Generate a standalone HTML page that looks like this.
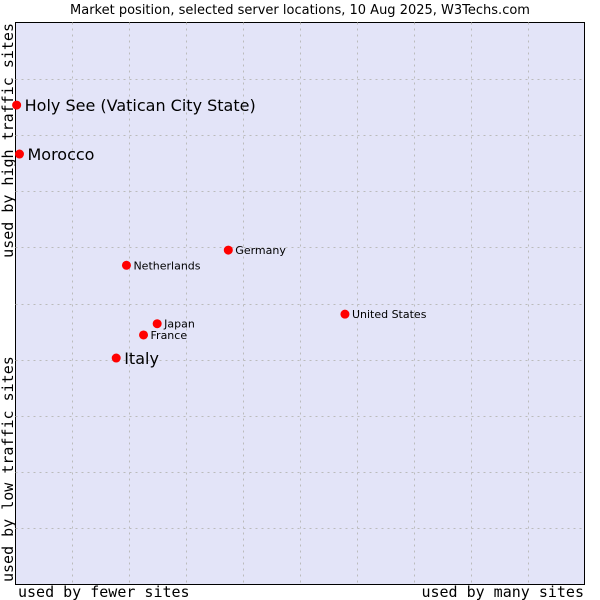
<!DOCTYPE html>
<html><head><meta charset="utf-8"><style>
body{margin:0;background:#fff;}
svg{display:block;font-family:"DejaVu Sans","Liberation Sans",sans-serif;}
.mono{font-family:"DejaVu Sans Mono","Liberation Mono",monospace;font-size:15px;fill:#000;}
</style></head><body>
<svg id="chart" width="600" height="600">
<text x="300" y="14" text-anchor="middle" font-size="13">Market position, selected server locations, 10 Aug 2025, W3Techs.com</text>
<rect x="15.5" y="22.5" width="569" height="562" fill="#e3e4f8" stroke="#000"/>
<g id="grid"></g>
<g id="points"></g>
<text class="mono" x="18" y="597">used by fewer sites</text>
<text class="mono" x="584" y="597" text-anchor="end">used by many sites</text>
<text class="mono" transform="translate(13,582) rotate(-90)">used by low traffic sites</text>
<text class="mono" transform="translate(13,23) rotate(-90)" text-anchor="end">used by high traffic sites</text>
</svg>
<script>
const names = ["Holy See (Vatican City State)","Morocco","Germany","Netherlands","United States","Japan","France","Italy"];
const xValues = [0.2,0.7,37.4,19.5,57.9,24.9,22.5,17.7];
const yValues = [85.3,76.6,59.5,56.8,48.1,46.4,44.4,40.3];
const bigLabel = [true,true,false,false,false,false,false,true];
const L=15.5,R=584.5,T=22.5,B=584.5;
const sx=v=>L+(R-L)*v/100, sy=v=>B-(B-T)*v/100;
const NS="http://www.w3.org/2000/svg";
const grid=document.getElementById('grid');
for(let i=1;i<10;i++){
  const x=Math.round(L+(R-L)*i/10)+0.5;
  const l=document.createElementNS(NS,'line');
  
  
  l.setAttribute('x1',x);l.setAttribute('x2',x);l.setAttribute('y1',T);l.setAttribute('y2',B);
  l.setAttribute('stroke','#bbb');l.setAttribute('stroke-dasharray','2,4');
  grid.appendChild(l);
  const y=Math.round(T+(B-T)*i/10)+0.5;
  const h=document.createElementNS(NS,'line');
  
  
  h.setAttribute('x1',L);h.setAttribute('x2',R);h.setAttribute('y1',y);h.setAttribute('y2',y);
  h.setAttribute('stroke','#bbb');h.setAttribute('stroke-dasharray','2,4');
  grid.appendChild(h);
}
const pts=document.getElementById('points');
names.forEach((n,i)=>{
  const x=sx(xValues[i]), y=sy(yValues[i]);
  const c=document.createElementNS(NS,'circle');
  
  
  c.setAttribute('cx',x);c.setAttribute('cy',y);c.setAttribute('r',4.5);c.setAttribute('fill','#f00');
  pts.appendChild(c);
  const t=document.createElementNS(NS,'text');
  
  
  t.setAttribute('x',x+(bigLabel[i]?8:7));
  t.setAttribute('y',y+(bigLabel[i]?6:4));
  t.setAttribute('font-size',bigLabel[i]?16:11);
  t.textContent=n;
  pts.appendChild(t);
});
</script>
</body></html>
